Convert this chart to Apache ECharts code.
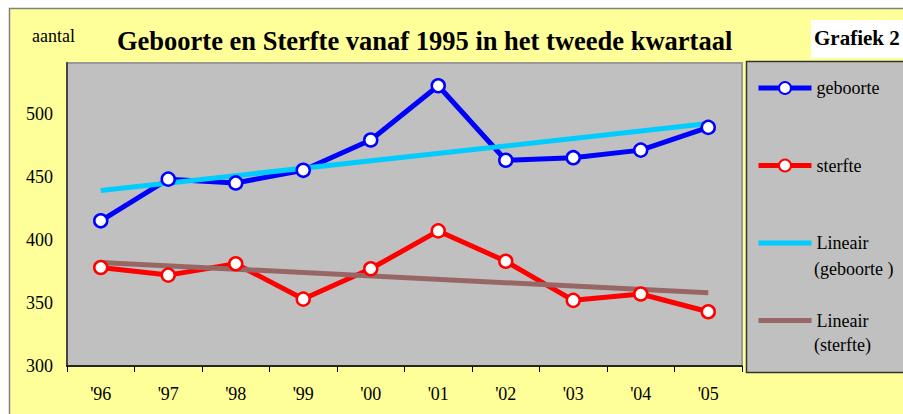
<!DOCTYPE html>
<html lang="nl">
  <head>
    <meta charset="UTF-8" />
    <script src="https://cdn.jsdelivr.net/npm/echarts@6/dist/echarts.min.js"></script>
    <title>Geboorte en Sterfte</title>
  </head>
  <body style="margin: 0">
    <div id="grafiek" style="width: 903px; height: 414px"></div>
  </body>
</html>

<script>
  // jaren en aantallen
  const jaren = ["'96", "'97", "'98", "'99", "'00", "'01", "'02", "'03", "'04", "'05"];
  const geboorte = [415, 448, 445, 455, 479, 522, 463, 465, 471, 489];
  const sterfte = [378, 372, 381, 353, 377, 407, 383, 352, 357, 343];
  // trendlijnen: alleen begin- en eindpunt
  const trendGeboorte = [439, null, null, null, null, null, null, null, null, 492];
  const trendSterfte = [382, null, null, null, null, null, null, null, null, 358];

  const serif = "'Liberation Serif', 'Times New Roman', serif";
  const chart = echarts.init(document.getElementById("grafiek"), null, { renderer: "svg" });

  const puntLijn = (naam, kleur, data) => ({
    name: naam,
    type: "line",
    data: data,
    symbol: "circle",
    symbolSize: 13,
    lineStyle: { color: kleur, width: 5 },
    itemStyle: { color: "#fff", borderColor: kleur, borderWidth: 2.5 },
    emphasis: { disabled: true },
  });
  const trendLijn = (naam, kleur, data) => ({
    name: naam,
    type: "line",
    data: data,
    connectNulls: true,
    symbol: "none",
    lineStyle: { color: kleur, width: 5 },
    itemStyle: { color: kleur, opacity: 0 },
    emphasis: { disabled: true },
  });

  const options = {
    backgroundColor: "#fff",
    animation: false,
    graphic: [
      { type: "rect", z: -10, shape: { x: 9.5, y: 8.5, width: 900, height: 410 },
        style: { fill: "#FFFF99", stroke: "#808080", lineWidth: 1.5 } },
      { type: "rect", z: -5, shape: { x: 746.5, y: 61.5, width: 170, height: 311 },
        style: { fill: "#C0C0C0", stroke: "#333", lineWidth: 1.5 } },
      { type: "rect", z: -5, shape: { x: 811, y: 20, width: 100, height: 38 },
        style: { fill: "#fff" } },
      { type: "text", z: 10, left: 814, top: 27,
        style: { text: "Grafiek 2", fontFamily: serif, fontWeight: "bold", fontSize: 21, fill: "#000" } },
      { type: "text", z: 10, left: 32, top: 27,
        style: { text: "aantal", fontFamily: serif, fontSize: 18, fill: "#000" } },
      { type: "text", z: 10, left: 814, top: 260,
        style: { text: "(geboorte )", fontFamily: serif, fontSize: 18, fill: "#000" } },
      { type: "text", z: 10, left: 814, top: 336,
        style: { text: "(sterfte)", fontFamily: serif, fontSize: 18, fill: "#000" } },
    ],
    title: {
      text: "Geboorte en Sterfte vanaf 1995 in het tweede kwartaal",
      left: 117,
      top: 27,
      padding: 0,
      textStyle: { fontFamily: serif, fontWeight: "bold", fontSize: 26.5, color: "#000" },
    },
    legend: {
      orient: "vertical",
      left: 756,
      top: 79,
      padding: 0,
      itemWidth: 53,
      itemHeight: 15,
      itemGap: 59.5,
      selectedMode: false,
      lineStyle: { width: 5 },
      formatter: (name) => name.split(" (")[0],
      textStyle: { fontFamily: serif, fontSize: 18, color: "#000" },
    },
    grid: {
      left: 67,
      top: 63,
      right: 161,
      bottom: 48,
      show: true,
      backgroundColor: "#C0C0C0",
      borderColor: "#999",
      borderWidth: 2,
    },
    xAxis: {
      type: "category",
      data: jaren,
      boundaryGap: true,
      axisLine: { lineStyle: { color: "#000", width: 1.5 } },
      axisTick: { show: true, inside: false, length: 6, lineStyle: { color: "#000" } },
      axisLabel: { margin: 19, fontFamily: serif, fontSize: 18, color: "#000" },
    },
    yAxis: {
      type: "value",
      min: 300,
      max: 540,
      interval: 50,
      axisLine: { show: true, lineStyle: { color: "#444", width: 2 } },
      axisTick: { show: false },
      splitLine: { show: false },
      axisLabel: { margin: 14, showMaxLabel: false, fontFamily: serif, fontSize: 18, color: "#000" },
    },
    series: [
      puntLijn("geboorte", "#0000FF", geboorte),
      puntLijn("sterfte", "#FF0000", sterfte),
      trendLijn("Lineair (geboorte )", "#00CCFF", trendGeboorte),
      trendLijn("Lineair (sterfte)", "#996666", trendSterfte),
    ],
  };
  chart.setOption(options);
</script>
